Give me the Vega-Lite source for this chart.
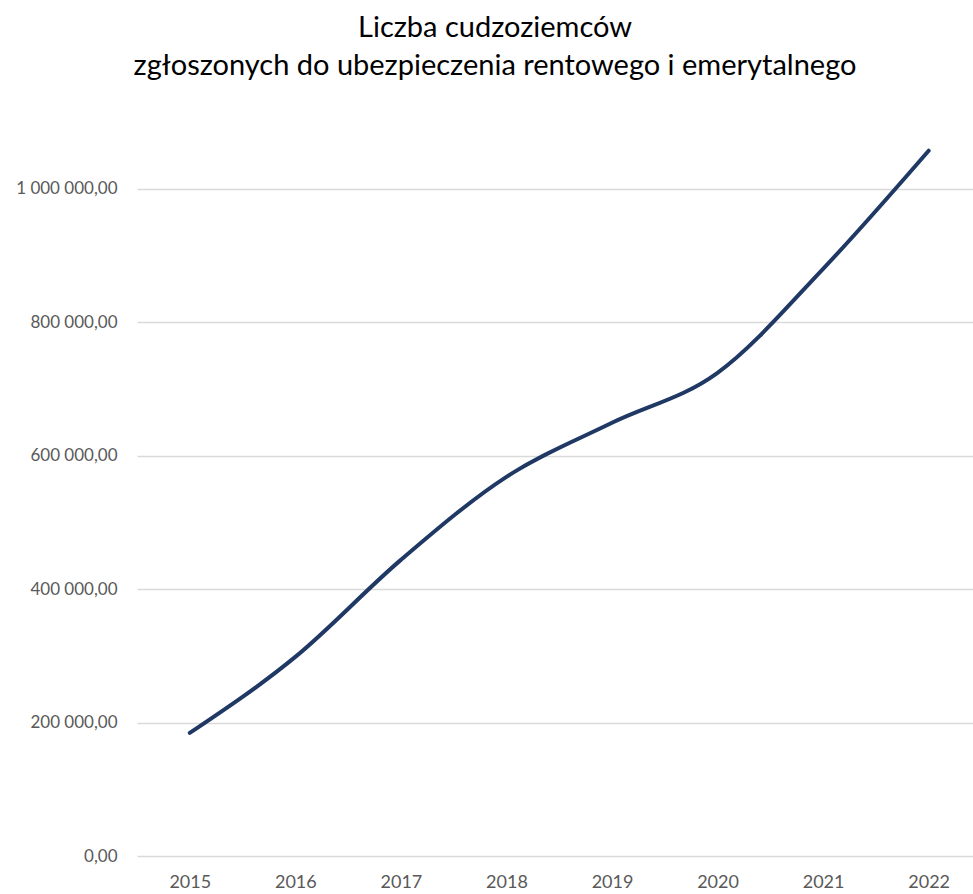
{
  "$schema": "https://vega.github.io/schema/vega-lite/v6.json",
  "width": 836,
  "height": 734,
  "autosize": "none",
  "padding": {"left": 137, "top": 122, "right": 0, "bottom": 38},
  "background": "white",
  "title": {
    "text": ["Liczba cudzoziemców", "zgłoszonych do ubezpieczenia rentowego i emerytalnego"],
    "font": "Lato",
    "fontSize": 29,
    "fontWeight": "normal",
    "color": "#000000",
    "lineHeight": 38,
    "anchor": "middle",
    "dx": -60,
    "offset": 41
  },
  "data": {
    "values": [
      {"rok": 2015, "liczba": 184400},
      {"rok": 2016, "liczba": 298400},
      {"rok": 2017, "liczba": 443800},
      {"rok": 2018, "liczba": 568200},
      {"rok": 2019, "liczba": 649200},
      {"rok": 2020, "liczba": 724100},
      {"rok": 2021, "liczba": 880000},
      {"rok": 2022, "liczba": 1057000}
    ]
  },
  "mark": {"type": "line", "color": "#1F3864", "strokeWidth": 4, "interpolate": "monotone", "strokeCap": "round"},
  "encoding": {
    "x": {
      "field": "rok",
      "type": "quantitative",
      "scale": {"domain": [2014.5, 2022.42], "nice": false, "zero": false},
      "axis": {
        "title": null,
        "values": [2015, 2016, 2017, 2018, 2019, 2020, 2021, 2022],
        "format": "d",
        "grid": false,
        "domain": false,
        "ticks": false,
        "labelFont": "Lato",
        "labelFontSize": 18,
        "labelColor": "#595959",
        "labelPadding": 17
      }
    },
    "y": {
      "field": "liczba",
      "type": "quantitative",
      "scale": {"domain": [0, 1100000], "nice": false},
      "axis": {
        "title": null,
        "values": [0, 200000, 400000, 600000, 800000, 1000000],
        "labelExpr": "datum.value == 0 ? '0,00' : replace(format(datum.value, ',d'), /,/g, ' ') + ',00'",
        "grid": true,
        "gridColor": "#D9D9D9",
        "gridWidth": 1.5,
        "domain": false,
        "ticks": false,
        "labelFont": "Lato",
        "labelFontSize": 17,
        "labelColor": "#595959",
        "labelPadding": 20
      }
    }
  },
  "config": {"view": {"stroke": null}}
}
